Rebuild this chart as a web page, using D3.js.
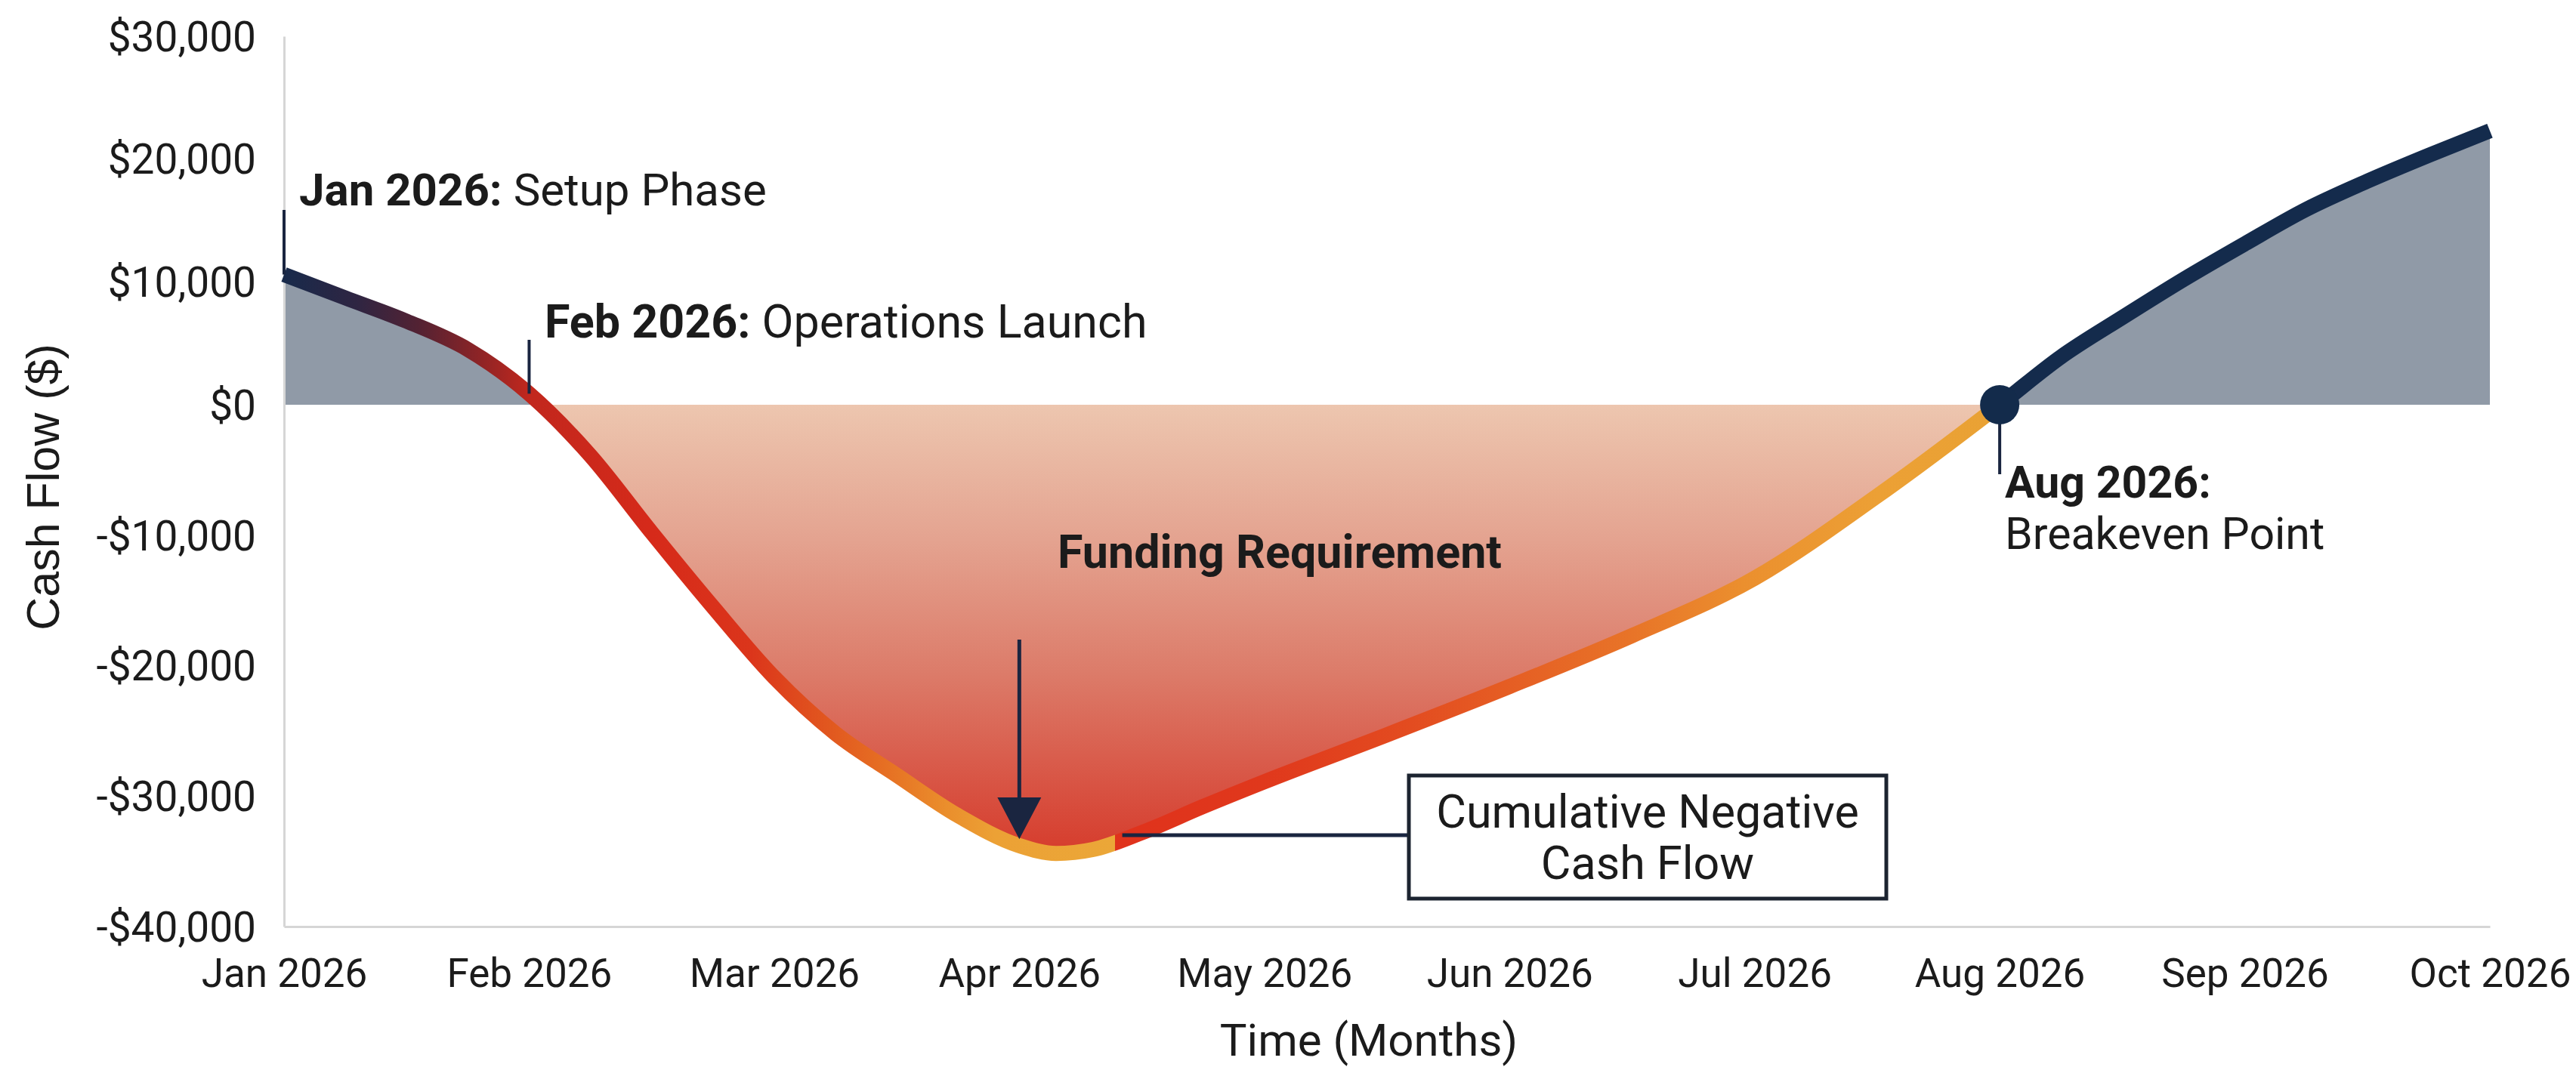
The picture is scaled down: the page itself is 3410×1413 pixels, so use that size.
<!DOCTYPE html>
<html>
<head>
<meta charset="utf-8">
<script src="https://d3js.org/d3.v7.min.js"></script>
<style>
  body { margin: 0; background: #fff; }
  text { font-family: Roboto, "Liberation Sans", sans-serif; fill: #1b1b1b; }
</style>
</head>
<body>
<div id="chart"></div>
<script>
// month labels on the x axis
const monthLabels = ["Jan 2026", "Feb 2026", "Mar 2026", "Apr 2026", "May 2026",
                     "Jun 2026", "Jul 2026", "Aug 2026", "Sep 2026", "Oct 2026"];

// positions along the curve (months after Jan 2026) and the cumulative cash flow there
const sampleMonths = [0, 0.25, 0.5, 0.75, 1, 1.25, 1.5, 1.75, 2, 2.25, 2.5, 2.75, 3, 3.15, 3.3,
                      3.5, 3.75, 4, 4.5, 5, 5.5, 6, 6.5, 7, 7.25, 7.5, 7.75, 8, 8.25, 8.5, 8.75, 9];
const cashFlow = [10600, 8700, 6800, 4500, 900, -3900, -9800, -15500, -20900, -25200, -28400,
                  -31500, -33800, -34400, -34100, -32800, -30800, -28900, -25300, -21600, -17700,
                  -13300, -7000, 0, 3900, 7100, 10200, 13100, 15900, 18200, 20300, 22300];

// y tick values
const yTicks = [30000, 20000, 10000, 0, -10000, -20000, -30000, -40000];

const data = sampleMonths.map((m, i) => ({m: m, v: cashFlow[i]}));

// size
const width = 3410;
const height = 1413;

const svg = d3.select("#chart")
    .append("svg")
    .attr("width", width)
    .attr("height", height);

// scales (the picture's y axis is a little tighter above zero than below it)
const x = d3.scaleLinear()
    .domain([0, monthLabels.length - 1])
    .range([376, 3296]);

const y = d3.scaleLinear()
    .domain([-40000, 0, 30000])
    .range([1227, 536, 48]);

const defs = svg.append("defs");

// colour along the line
const lineStops = [
    [0, "#182a4b"], [0.3, "#2f2542"], [0.55, "#532233"], [0.8, "#8e2426"], [1.0, "#c1271d"],
    [1.5, "#d62a1a"], [1.9, "#db351b"], [2.15, "#e0501e"], [2.45, "#e66f23"], [2.7, "#ea8e2c"],
    [2.9, "#eca135"], [3.39, "#eba738"], [3.39, "#e0321c"], [4.0, "#e0381c"], [4.6, "#e34c20"],
    [5.5, "#e87428"], [5.95, "#eb8f2e"], [6.5, "#eca035"], [6.99, "#e9a234"], [6.99, "#142b4c"],
    [9, "#142b4c"]
];
const lineGrad = defs.append("linearGradient")
    .attr("id", "lineGrad")
    .attr("gradientUnits", "userSpaceOnUse")
    .attr("x1", x(0)).attr("x2", x(9)).attr("y1", 0).attr("y2", 0);
lineGrad.selectAll("stop")
    .data(lineStops)
    .enter()
    .append("stop")
    .attr("offset", d => d[0] / 9)
    .attr("stop-color", d => d[1]);

// fill below zero
const negGrad = defs.append("linearGradient")
    .attr("id", "negGrad")
    .attr("gradientUnits", "userSpaceOnUse")
    .attr("x1", 0).attr("x2", 0)
    .attr("y1", y(0)).attr("y2", y(-34400));
[[0, "#edc6af"], [0.3, "#e4a390"], [0.6, "#dc7b69"], [0.85, "#d85343"], [1, "#d63c2c"]].forEach(s => {
    negGrad.append("stop").attr("offset", s[0]).attr("stop-color", s[1]);
});

defs.append("clipPath").attr("id", "clipPos")
    .append("rect").attr("x", 0).attr("y", 0).attr("width", width).attr("height", y(0));
defs.append("clipPath").attr("id", "clipNeg")
    .append("rect").attr("x", 0).attr("y", y(0)).attr("width", width).attr("height", height - y(0));

// areas
const area = d3.area()
    .x(d => x(d.m))
    .y0(y(0))
    .y1(d => y(d.v))
    .curve(d3.curveMonotoneX);

svg.append("path")
    .datum(data)
    .attr("d", area)
    .attr("fill", "#909aa7")
    .attr("clip-path", "url(#clipPos)");

svg.append("path")
    .datum(data)
    .attr("d", area)
    .attr("fill", "url(#negGrad)")
    .attr("clip-path", "url(#clipNeg)");

// axes
const money = v => (v < 0 ? "-" : "") + "$" + d3.format(",")(Math.abs(v));

const gx = svg.append("g")
    .attr("transform", `translate(0, ${y(-40000)})`)
    .call(d3.axisBottom(x)
        .tickValues(d3.range(monthLabels.length))
        .tickFormat(i => monthLabels[i])
        .tickSize(0)
        .tickSizeOuter(0));
gx.selectAll("text")
    .attr("y", 80)
    .attr("dy", 0)
    .style("font-size", "53px")
    .style("font-family", "Roboto")
    .attr("fill", "#1b1b1b");

const gy = svg.append("g")
    .attr("transform", `translate(${x(0)}, 0)`)
    .call(d3.axisLeft(y)
        .tickValues(yTicks)
        .tickFormat(money)
        .tickSize(0)
        .tickSizeOuter(0));
gy.selectAll("text")
    .attr("x", -37)
    .attr("dy", "0.35em")
    .style("font-size", "55px")
    .style("font-family", "Roboto")
    .attr("fill", "#1b1b1b");

svg.selectAll(".domain")
    .attr("stroke", "#d6d6d6")
    .attr("stroke-width", 3);

// axis titles
svg.append("text")
    .attr("x", 1812)
    .attr("y", 1398)
    .attr("text-anchor", "middle")
    .style("font-size", "60px")
    .text("Time (Months)");

svg.append("text")
    .attr("transform", "translate(78, 645) rotate(-90)")
    .attr("text-anchor", "middle")
    .style("font-family", "'Liberation Sans', Arial, sans-serif")
    .style("font-size", "61px")
    .text("Cash Flow ($)");

// the cash flow line
const line = d3.line()
    .x(d => x(d.m))
    .y(d => y(d.v))
    .curve(d3.curveMonotoneX);

svg.append("path")
    .datum(data)
    .attr("d", line)
    .attr("fill", "none")
    .attr("stroke", "url(#lineGrad)")
    .attr("stroke-width", 20);

// annotations
const navy = "#1a2540";

// Jan
svg.append("line")
    .attr("x1", x(0)).attr("x2", x(0))
    .attr("y1", 278).attr("y2", y(cashFlow[0]))
    .attr("stroke", navy).attr("stroke-width", 4);
const tJan = svg.append("text").attr("x", 396).attr("y", 272).style("font-size", "60px");
tJan.append("tspan").style("font-weight", "bold").text("Jan 2026:");
tJan.append("tspan").text(" Setup Phase");

// Feb
svg.append("line")
    .attr("x1", x(1)).attr("x2", x(1))
    .attr("y1", 450).attr("y2", y(cashFlow[4]))
    .attr("stroke", navy).attr("stroke-width", 4);
const tFeb = svg.append("text").attr("x", 721).attr("y", 447).style("font-size", "61px");
tFeb.append("tspan").style("font-weight", "bold").text("Feb 2026:");
tFeb.append("tspan").text(" Operations Launch");

// Funding requirement + arrow to the low point
svg.append("text")
    .attr("x", 1694)
    .attr("y", 752)
    .attr("text-anchor", "middle")
    .style("font-size", "61px")
    .style("font-weight", "bold")
    .text("Funding Requirement");

const arrowX = x(3);
svg.append("line")
    .attr("x1", arrowX).attr("x2", arrowX)
    .attr("y1", y(-18000)).attr("y2", y(-30500))
    .attr("stroke", navy).attr("stroke-width", 5);
svg.append("path")
    .attr("d", `M${arrowX - 29},${y(-30100)} L${arrowX + 29},${y(-30100)} L${arrowX},${y(-33300)} Z`)
    .attr("fill", navy);

// Cumulative negative cash flow callout
const boxX = 1865, boxY = 1027, boxW = 632, boxH = 163;
svg.append("line")
    .attr("x1", x(3.42)).attr("x2", boxX)
    .attr("y1", y(-33000)).attr("y2", y(-33000))
    .attr("stroke", navy).attr("stroke-width", 5);
svg.append("rect")
    .attr("x", boxX).attr("y", boxY)
    .attr("width", boxW).attr("height", boxH)
    .attr("fill", "#fff")
    .attr("stroke", "#1c2430")
    .attr("stroke-width", 5);
const tBox = svg.append("text")
    .attr("x", boxX + boxW / 2).attr("y", 1096)
    .attr("text-anchor", "middle")
    .style("font-size", "61px");
tBox.append("tspan").text("Cumulative Negative");
tBox.append("tspan").attr("x", boxX + boxW / 2).attr("dy", 68).text("Cash Flow");

// breakeven
svg.append("line")
    .attr("x1", x(7)).attr("x2", x(7))
    .attr("y1", y(0)).attr("y2", 628)
    .attr("stroke", navy).attr("stroke-width", 4);
svg.append("circle")
    .attr("cx", x(7))
    .attr("cy", y(0))
    .attr("r", 26)
    .attr("fill", "#132b4b");
const tAug = svg.append("text")
    .attr("x", 2654).attr("y", 659)
    .style("font-size", "59px");
tAug.append("tspan").style("font-weight", "bold").text("Aug 2026:");
tAug.append("tspan").attr("x", 2654).attr("dy", 68).text("Breakeven Point");
</script>
</body>
</html>
